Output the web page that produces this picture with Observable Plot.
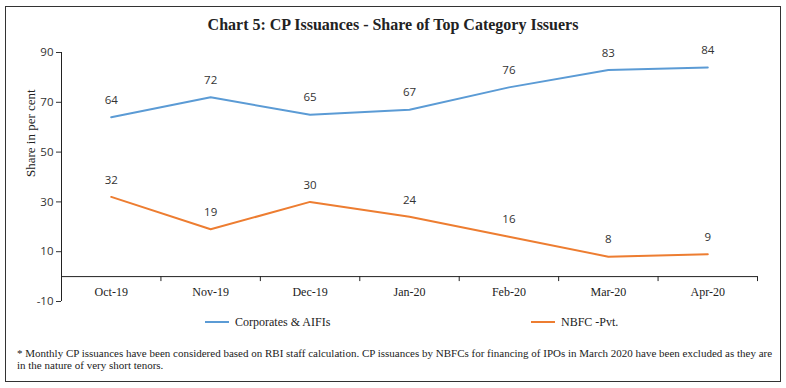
<!DOCTYPE html>
<html>
<head>
<meta charset="utf-8">
<script src="https://cdn.jsdelivr.net/npm/d3@7"></script>
<script src="https://cdn.jsdelivr.net/npm/@observablehq/plot@0.6"></script>
<style>
  body { margin: 0; background: #fff; width: 786px; height: 388px; position: relative; overflow: hidden; }
  #frame { position: absolute; left: 5px; top: 5.5px; width: 776px; height: 376px; box-sizing: border-box; border: 1.5px solid #333; }
  #title { height: 25px; padding-top: 15px; text-align: center; font: bold 16px "Liberation Serif", serif; line-height: 20px; color: #222; }
  #chart svg { display: block; }
  #legend { position: relative; height: 24px; font: 12px "Liberation Serif", serif; color: #222; }
  .item { position: absolute; top: 0; height: 24px; display: flex; align-items: center; }
  .sw { display: inline-block; width: 24px; height: 2px; margin-right: 6px; }
  #note { margin-top: 12.5px; padding-left: 17px; font: 11px "Liberation Serif", serif; line-height: 12.5px; color: #222; }
</style>
</head>
<body>
<div id="frame"></div>
<div id="title"></div>
<div id="chart"></div>
<div id="legend"></div>
<div id="note"></div>
<script>
const titleText = "Chart 5: CP Issuances - Share of Top Category Issuers";
const categories = ["Oct-19","Nov-19","Dec-19","Jan-20","Feb-20","Mar-20","Apr-20"];
const corporates = [64,72,65,67,76,83,84];
const nbfc = [32,19,30,24,16,8,9];
const yTicks = [90,70,50,30,10,-10];
const seriesNames = ["Corporates & AIFIs","NBFC -Pvt."];
const seriesColors = ["#5B9BD5","#ED7D31"];
const yLabel = "Share in per cent";
const noteLines = [
  "* Monthly CP issuances have been considered based on RBI staff calculation. CP issuances by NBFCs for financing of IPOs in March 2020 have been excluded as they are",
  "in the nature of very short tenors."
];

document.getElementById("title").textContent = titleText;

const serif = "Liberation Serif, serif";
const sans = "Open Sans, sans-serif";
const boundaries = d3.range(categories.length + 1).map(i => i - 0.5);
const series = [corporates, nbfc];

const marks = [
  Plot.ruleX([-0.5], {y1: -10, y2: 90, stroke: "#222"}),
  Plot.axisY({ticks: yTicks, tickFormat: d => String(d), tickSize: 5, tickPadding: 3, fontSize: 11.5, fontFamily: sans, color: "#333", label: null}),
  Plot.ruleY([0], {stroke: "#222"}),
  Plot.ruleX(boundaries, {y1: 0, y2: -2, stroke: "#222"}),
  Plot.text(categories, {x: (d, i) => i, y: 0, dy: 16, text: d => d, fontFamily: serif, fontSize: 12, fill: "#222"}),
  Plot.text([yLabel], {frameAnchor: "left", dx: -31, rotate: -90, text: d => d, fontFamily: serif, fontSize: 13, fill: "#222"})
];
series.forEach((vals, s) => {
  marks.push(Plot.line(vals, {x: (d, i) => i, y: d => d, stroke: seriesColors[s], strokeWidth: 2}));
  marks.push(Plot.text(vals, {x: (d, i) => i, y: d => d, text: d => String(d), dy: -17, fontFamily: sans, fontSize: 11.5, fill: "#333"}));
});

const chart = Plot.plot({
  width: 786,
  height: 270,
  marginLeft: 61,
  marginRight: 29,
  marginTop: 12,
  marginBottom: 9,
  x: {type: "linear", domain: [-0.5, categories.length - 0.5], axis: null},
  y: {domain: [-10, 90], axis: null},
  style: {fontFamily: sans, background: "transparent"},
  marks
});
document.getElementById("chart").appendChild(chart);

const legend = document.getElementById("legend");
const legendLeft = [205, 531];
seriesNames.forEach((name, s) => {
  const it = document.createElement("div");
  it.className = "item";
  it.style.left = legendLeft[s] + "px";
  const sw = document.createElement("span");
  sw.className = "sw";
  sw.style.background = seriesColors[s];
  it.appendChild(sw);
  it.appendChild(document.createTextNode(name));
  legend.appendChild(it);
});

document.getElementById("note").innerHTML = noteLines.join("<br>");
</script>
</body>
</html>
